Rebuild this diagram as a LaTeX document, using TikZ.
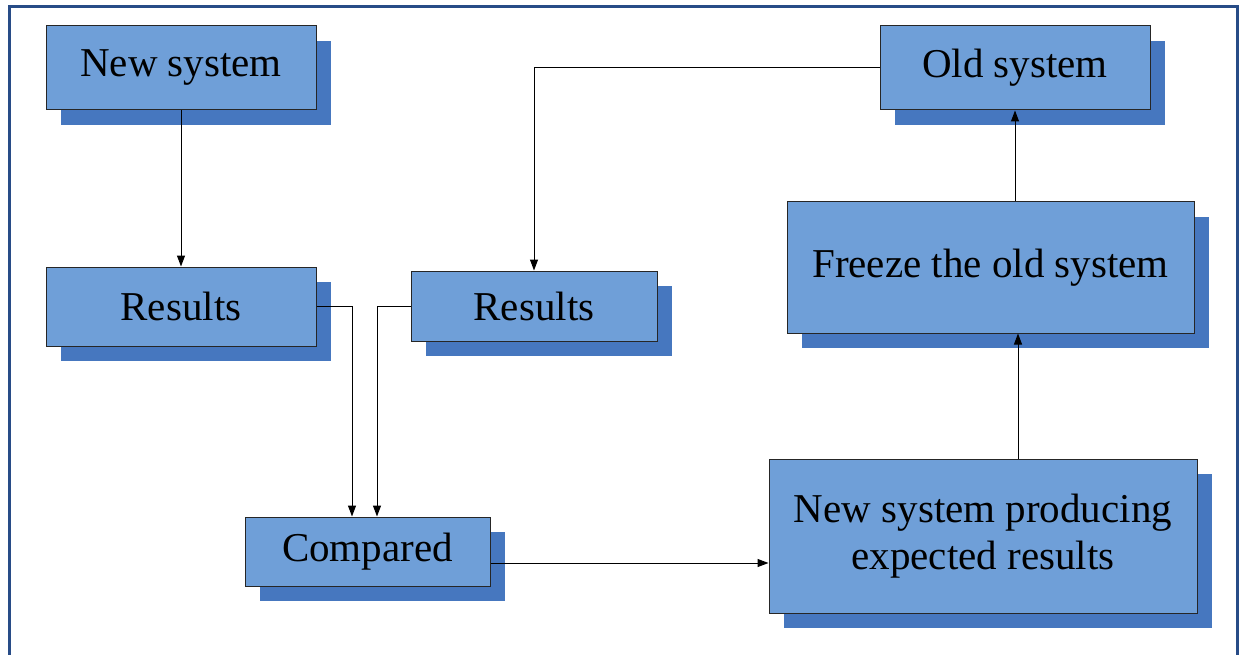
\documentclass[tikz,border=0pt]{standalone}
\usepackage{fontspec}
\setmainfont{Liberation Serif}
\usetikzlibrary{arrows.meta,shadows,calc}
\definecolor{boxfill}{RGB}{111,159,216}
\definecolor{shadowblue}{RGB}{70,119,191}
\definecolor{framecol}{RGB}{40,76,135}
\tikzset{
  box/.style={draw=black!85, line width=1pt, fill=boxfill, align=center,
    inner sep=0pt, font=\fontsize{41}{47}\selectfont,
    drop shadow={shadow xshift=15pt, shadow yshift=-15pt, opacity=1, fill=shadowblue}},
  arr/.style={draw=black, line width=1pt, -{Triangle[length=11pt,width=8pt]}},
  conn/.style={draw=black, line width=1pt}
}
\begin{document}
\begin{tikzpicture}[x=1pt,y=-1pt]
\useasboundingbox (0,0) rectangle (1242,655);
\clip (0,0) rectangle (1242,655);
\fill[white] (0,0) rectangle (1242,655);
\draw[framecol, line width=3pt] (9.5,670) -- (9.5,7) -- (1237,7) -- (1237,670);

\node[box, minimum width=270pt, minimum height=84pt] (ns) at (181,68) {New system};
\node[box, minimum width=270pt, minimum height=79pt] (rl) at (181,306.5) {Results};
\node[box, minimum width=246pt, minimum height=70pt] (rm) at (534,306) {Results};
\node[box, minimum width=270pt, minimum height=84pt] (os) at (1015,68) {Old system};
\node[box, minimum width=407pt, minimum height=131pt] (fr) at (990.5,267.5) {Freeze the old system};
\node[box, minimum width=245pt, minimum height=69pt] (cp) at (367.5,551.5) {Compared};
\node[box, minimum width=428pt, minimum height=154pt] (np) at (983,536) {New system producing\\expected results};

\draw[arr] (ns.south) -- (rl.north);
\draw[arr] (os.west) -| (rm.north);
\draw[arr] (rl.east) -| ([xshift=-15.5pt]cp.north);
\draw[arr] (rm.west) -| ([xshift=9.5pt]cp.north);
\draw[arr] ([yshift=-11.5pt]cp.east) -- ([yshift=-11.5pt]cp.east -| np.west);
\draw[arr] ([xshift=35pt]np.north) -- ([xshift=35pt]np.north |- fr.south);
\draw[arr] (fr.north -| os.south) -- (os.south);
\end{tikzpicture}
\end{document}
